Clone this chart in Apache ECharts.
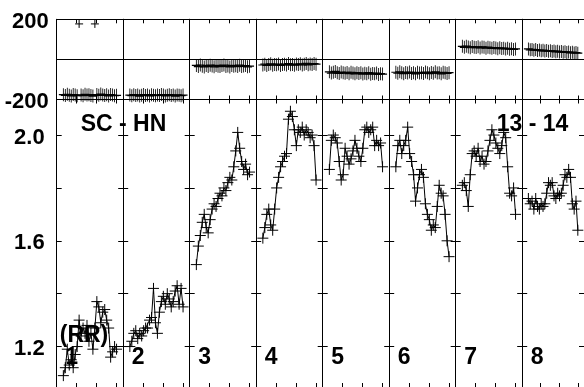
<!DOCTYPE html>
<html><head><meta charset="utf-8">
<script src="https://cdn.jsdelivr.net/npm/echarts@6/dist/echarts.min.js"></script>
<style>html,body{margin:0;padding:0;background:#fff}#c{width:584px;height:387px}</style>
</head><body><div id="c"></div>
<script>
// ---------- data ----------
const panelLabels = ['1','2','3','4','5','6','7','8'];
const annotationTexts = ['SC - HN', '13 - 14', '(RR)'];

// lower panel: RR values per segment
const rr1 = [1.09,1.12,1.19,1.13,1.15,1.12,1.17,1.20,1.30,1.24,1.27,1.25,1.28,1.22,1.25,1.19,1.27,1.37,1.35,1.29,1.33,1.34,1.30,1.27,1.16,1.18,1.20,1.19];
const rr2 = [1.20,1.22,1.25,1.26,1.23,1.25,1.24,1.26,1.27,1.27,1.30,1.31,1.42,1.29,1.25,1.33,1.37,1.39,1.36,1.40,1.38,1.35,1.37,1.41,1.43,1.36,1.42,1.35];
const rr3 = [1.51,1.58,1.62,1.67,1.70,1.65,1.63,1.68,1.72,1.74,1.73,1.76,1.78,1.77,1.80,1.79,1.82,1.84,1.83,1.88,1.94,2.01,1.95,1.90,1.87,1.89,1.85,1.86];
const rr4 = [1.61,1.65,1.70,1.72,1.66,1.64,1.72,1.80,1.84,1.88,1.90,1.92,1.93,2.06,2.09,2.07,2.02,1.96,2.02,2.01,2.03,2.00,2.02,2.01,1.99,2.00,1.96,1.83];
const rr5 = [1.87,1.98,2.00,1.99,1.97,1.90,1.83,1.85,1.95,1.92,1.89,1.91,1.94,1.98,1.95,1.92,1.90,1.95,2.02,2.03,2.01,2.02,2.03,1.96,1.98,1.96,1.97,1.88];
const rr6 = [1.88,1.96,1.98,1.93,1.96,1.98,2.03,1.93,1.90,1.85,1.75,1.80,1.85,1.87,1.84,1.74,1.70,1.68,1.64,1.66,1.65,1.73,1.81,1.78,1.77,1.70,1.60,1.54];
const rr7 = [1.81,1.82,1.79,1.73,1.85,1.93,1.94,1.92,1.95,1.90,1.92,1.89,1.90,1.94,1.98,2.02,2.00,1.97,1.95,1.93,1.96,2.01,1.99,1.88,1.78,1.77,1.80,1.70];
const rr8 = [1.76,1.74,1.75,1.72,1.76,1.73,1.72,1.74,1.73,1.74,1.78,1.82,1.81,1.82,1.77,1.76,1.78,1.77,1.78,1.81,1.85,1.84,1.87,1.84,1.74,1.72,1.75,1.64];

// upper panel values per segment
const up1 = [-176,-180,-174,-179,-182,-175,-178,-181,177,-177,-181,-174,-178,-176,-180,-183,177,-175,-179,-173,-177,-180,-176,-182,-175,-178,-181,-179];
const up2 = [-178,-181,-176,-180,-177,-183,-179,-175,-180,-178,-182,-176,-179,-181,-177,-180,-175,-178,-182,-179,-176,-180,-178,-183,-177,-179,-181,-178];
const up3 = [-30,-36,-28,-34,-38,-31,-35,-29,-33,-37,-30,-34,-36,-31,-28,-35,-33,-38,-30,-34,-32,-36,-29,-35,-33,-31,-37,-34];
const up4 = [-28,-24,-30,-26,-22,-29,-25,-27,-23,-30,-26,-24,-28,-21,-27,-25,-29,-23,-26,-22,-28,-24,-20,-27,-23,-25,-21,-24];
const up5 = [-62,-68,-64,-60,-67,-70,-63,-66,-69,-65,-71,-64,-68,-72,-66,-70,-67,-73,-69,-71,-66,-74,-70,-72,-68,-75,-71,-73];
const up6 = [-64,-69,-62,-67,-71,-65,-68,-63,-70,-66,-72,-64,-68,-66,-70,-63,-67,-71,-65,-69,-62,-68,-66,-72,-64,-67,-70,-66];
const up7 = [65,60,66,62,58,64,61,59,63,57,62,60,56,61,58,55,59,57,53,58,54,56,52,55,51,53,50,52];
const up8 = [52,48,50,46,49,45,47,43,46,42,44,41,43,40,42,38,41,37,39,36,38,35,37,33,36,32,34,31];

const rrSegments = [rr1,rr2,rr3,rr4,rr5,rr6,rr7,rr8];
const upSegments = [up1,up2,up3,up4,up5,up6,up7,up8];

const upTickValues = [-200, 0, 200];
const rrLabelValues = [1.2, 1.6, 2.0];
const rrTickValues = [1.2, 1.4, 1.6, 1.8, 2.0];

// ---------- layout ----------
const L0 = 56.7, PW = 66.5;
const TOP_T = 19.3, TOP_H = 80.2, BOT_T = 99.5, BOT_H = 289.5;
const RR_MIN = 1.047, RR_MAX = 2.1345;
const FONT = '"Liberation Sans", Arial, Helvetica, sans-serif';
const PLUS = 'path://M0,6.5L9,6.5M4.5,0L4.5,13';

const grids = [], xAxes = [], yAxes = [], series = [];
const black = '#000';
const labelRich = {d: {color: black, fontWeight: 'bold', fontSize: 22, fontFamily: FONT, padding: [5, 0, 0, 0]}};

for (let row = 0; row < 2; row++) {
  for (let p = 0; p < 8; p++) {
    const gi = grids.length;
    grids.push({left: L0 + p * PW, top: row ? BOT_T : TOP_T, width: PW, height: row ? BOT_H : TOP_H});
    ['bottom', 'top'].forEach(pos => {
      xAxes.push({
        type: 'value', gridIndex: gi, position: pos, min: 0, max: 1, interval: 0.3,
        axisLine: {show: true, onZero: false, lineStyle: {color: black, width: 1}},
        axisTick: {show: true, inside: true, length: 4, lineStyle: {color: black, width: 1}},
        axisLabel: {show: false}, splitLine: {show: false}
      });
    });
    ['left', 'right'].forEach(pos => {
      const first = (p === 0 && pos === 'left');
      if (row === 0) {
        yAxes.push({
          type: 'value', gridIndex: gi, position: pos, min: upTickValues[0], max: upTickValues[2], interval: 200,
          axisLine: {show: true, onZero: false, lineStyle: {color: black, width: 1}},
          axisTick: {show: true, inside: true, length: 5, lineStyle: {color: black}},
          axisLabel: {show: first, margin: 8, color: black, fontWeight: 'bold', fontSize: 22, fontFamily: FONT,
            rich: labelRich, formatter: v => (v === 0 ? '' : '{d|' + v + '}')},
          splitLine: {show: pos === 'left', lineStyle: {color: black, width: 1}}
        });
      } else {
        yAxes.push({
          type: 'value', gridIndex: gi, position: pos, min: RR_MIN, max: RR_MAX,
          axisLine: {show: true, onZero: false, lineStyle: {color: black, width: 1}},
          axisTick: {show: true, inside: true, length: 5, customValues: rrTickValues, lineStyle: {color: black}},
          axisLabel: {show: first, margin: 12, color: black, fontWeight: 'bold', fontSize: 22, fontFamily: FONT,
            customValues: rrLabelValues, rich: labelRich, formatter: v => '{d|' + v.toFixed(1) + '}'},
          splitLine: {show: false}
        });
      }
    });
    const xIdx = gi * 2, yIdx = gi * 2;
    const vals = row ? rrSegments[p] : upSegments[p];
    const n = vals.length;
    const data = vals.map((v, i) => [0.1 + 0.8 * i / (n - 1), v]);
    if (row === 1) {
      series.push({
        type: 'line', xAxisIndex: xIdx, yAxisIndex: yIdx, data,
        symbol: PLUS, symbolSize: [11, 11], showAllSymbol: true,
        lineStyle: {color: black, width: 1},
        itemStyle: {color: 'rgba(0,0,0,0)', borderColor: black, borderWidth: 1},
        emphasis: {disabled: true}, silent: true, animation: false, z: 3
      });
    } else {
      series.push({
        type: 'scatter', xAxisIndex: xIdx, yAxisIndex: yIdx, data,
        symbol: PLUS, symbolSize: v => (v[1] > 100 ? [8, 8] : [9, 13]),
        itemStyle: {color: 'rgba(0,0,0,0)', borderColor: black, borderWidth: 1, opacity: 1},
        emphasis: {disabled: true}, silent: true, animation: false, z: 3
      });
    }
  }
}

const graphic = [];
const txt = (x, y, text, align) => ({
  type: 'text', x, y, z: 100, silent: true,
  style: {text, fill: black, font: 'bold 23px ' + FONT, align: align || 'center', verticalAlign: 'middle'}
});
graphic.push(txt(123.5, 125, annotationTexts[0]));
graphic.push(txt(532.5, 125, annotationTexts[1]));
graphic.push(txt(84, 336, annotationTexts[2]));
panelLabels.forEach((t, p) => graphic.push(txt(L0 + p * PW + 8.5, 358, t, 'left')));

const chart = echarts.init(document.getElementById('c'), null, {renderer: 'canvas'});
chart.setOption({
  backgroundColor: '#fff',
  animation: false,
  grid: grids, xAxis: xAxes, yAxis: yAxes, series, graphic
});
</script></body></html>
